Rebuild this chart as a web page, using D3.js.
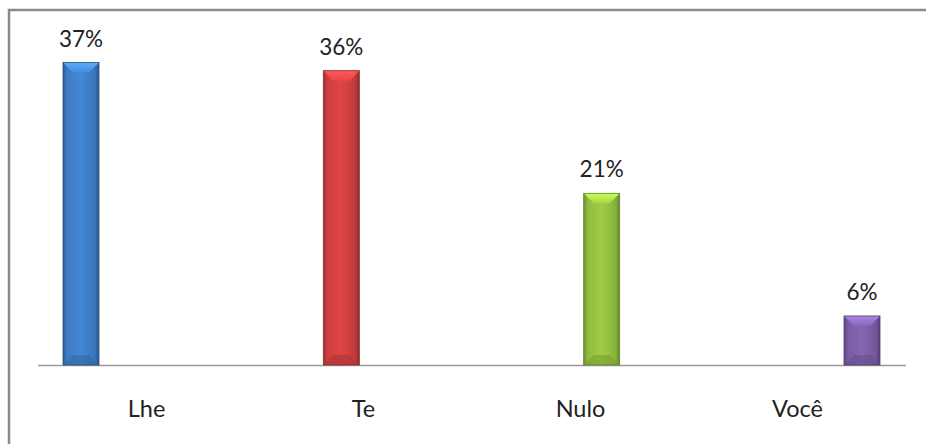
<!DOCTYPE html>
<html>
<head>
<meta charset="utf-8">
<script src="https://cdn.jsdelivr.net/npm/d3@7/dist/d3.min.js"></script>
<style>
  html, body { margin: 0; padding: 0; background: #fff; }
  svg { display: block; }
  text { font-family: Lato, "Open Sans", sans-serif; fill: #222; }
</style>
</head>
<body>
<svg id="chart" width="926" height="444"></svg>
<script>
// Pronoun usage shares (%)
const categories = ["Lhe", "Te", "Nulo", "Você"];
const values = [37, 36, 21, 6];
const labels = ["37%", "36%", "21%", "6%"];
const colors = ["#4282d0", "#d84242", "#98c642", "#8062ac"];

const svg = d3.select("#chart");
const W = 926, H = 444;

// chart frame (extends beyond the right and bottom edges)
svg.append("rect")
  .attr("x", 9).attr("y", 10)
  .attr("width", W).attr("height", H)
  .attr("fill", "#fff")
  .attr("stroke", "#8a8a8a").attr("stroke-width", 2.5);

const axisY = 365;
const x = d3.scaleBand().domain(categories).range([38, 906]);
const xBar = d3.scalePoint().domain(categories).range([81, 862]);
const y = d3.scaleLinear().domain([0, 40]).range([axisY, 38]);
const barW = 36;

const defs = svg.append("defs");
colors.forEach((c, i) => {
  const base = d3.color(c);
  const g = defs.append("linearGradient").attr("id", "side" + i)
    .attr("x1", 0).attr("x2", 1).attr("y1", 0).attr("y2", 0);
  g.append("stop").attr("offset", "0%").attr("stop-color", base.darker(0.9));
  g.append("stop").attr("offset", "12%").attr("stop-color", base.darker(0.15));
  g.append("stop").attr("offset", "50%").attr("stop-color", base.brighter(0.1));
  g.append("stop").attr("offset", "88%").attr("stop-color", base.darker(0.3));
  g.append("stop").attr("offset", "100%").attr("stop-color", base.darker(1.1));
  const t = defs.append("linearGradient").attr("id", "bev" + i)
    .attr("x1", 0).attr("x2", 0).attr("y1", 0).attr("y2", 1);
  t.append("stop").attr("offset", "0%").attr("stop-color", base.brighter(0.8));
  t.append("stop").attr("offset", "100%").attr("stop-color", base.brighter(0.2));
});

// baseline
svg.append("line")
  .attr("x1", 38).attr("x2", 906)
  .attr("y1", axisY + 0.5).attr("y2", axisY + 0.5)
  .attr("stroke", "#9a9a9a").attr("stroke-width", 1.5);

const bars = svg.append("g").selectAll("g").data(categories).join("g");

bars.each(function(cat, i) {
  const g = d3.select(this);
  const cx = xBar(cat);
  const x0 = cx - barW / 2, x1 = cx + barW / 2;
  const top = y(values[i]);
  const base = d3.color(colors[i]);
  const bev = Math.min(10, (axisY - top) / 4);
  g.append("rect")
    .attr("x", x0).attr("y", top)
    .attr("width", barW).attr("height", axisY - top)
    .attr("fill", `url(#side${i})`);
  // top bevel
  g.append("path")
    .attr("d", `M${x0},${top} L${x1},${top} L${x1 - bev},${top + bev} L${x0 + bev},${top + bev} Z`)
    .attr("fill", `url(#bev${i})`);
  // bottom bevel shading
  g.append("path")
    .attr("d", `M${x0 + bev},${axisY - bev} L${x1 - bev},${axisY - bev} L${x1},${axisY} L${x0},${axisY} Z`)
    .attr("fill", base.darker(0.7)).attr("opacity", 0.55);
  g.append("rect")
    .attr("x", x0).attr("y", top)
    .attr("width", barW).attr("height", axisY - top)
    .attr("fill", "none")
    .attr("stroke", base.darker(1.3)).attr("stroke-width", 0.8);
  // value label
  g.append("text")
    .attr("x", cx).attr("y", top - 16)
    .attr("text-anchor", "middle")
    .attr("font-size", 22.5)
    .text(labels[i]);
});

// category labels
svg.append("g").selectAll("text").data(categories).join("text")
  .attr("x", d => x(d) + x.bandwidth() / 2)
  .attr("y", 417)
  .attr("text-anchor", "middle")
  .attr("font-size", 23.5)
  .text(d => d);
</script>
</body>
</html>
